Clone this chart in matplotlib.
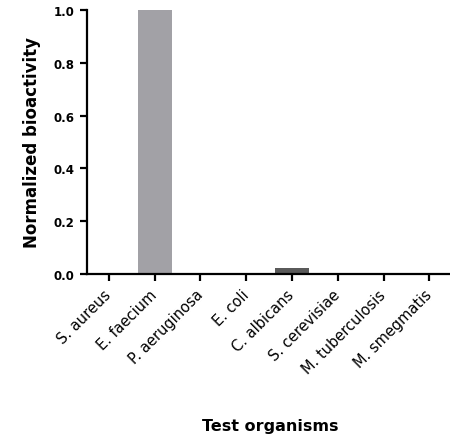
import matplotlib.pyplot as plt

plt.rcParams['font.family'] = ['DejaVu Sans']

organisms = ['S. aureus', 'E. faecium', 'P. aeruginosa', 'E. coli',
             'C. albicans', 'S. cerevisiae', 'M. tuberculosis', 'M. smegmatis']
activity = [0.0, 1.0, 0.0, 0.0, 0.022, 0.0, 0.0, 0.0]
bar_colors = ['#a2a1a6', '#a2a1a6', '#a2a1a6', '#a2a1a6',
              '#5a5a5a', '#a2a1a6', '#a2a1a6', '#a2a1a6']

fig = plt.figure(figsize=(4.5, 4.39), dpi=100)
ax = fig.add_axes([0.193, 0.374, 0.807, 0.601])

x = range(len(organisms))
ax.bar(x, activity, width=0.74, color=bar_colors)

ax.set_xlim(-0.48, 7.45)
ax.set_ylim(0, 1.0)
ax.set_yticks([0.0, 0.2, 0.4, 0.6, 0.8, 1.0])
ax.set_yticklabels(['0.0', '0.2', '0.4', '0.6', '0.8', '1.0'],
                   fontsize=8.5, fontweight='bold')
ax.set_xticks(list(x))
ax.set_xticklabels(organisms, rotation=45, ha='right', va='center',
                   rotation_mode='anchor', fontsize=10.5)

for side in ['top', 'right']:
    ax.spines[side].set_visible(False)
for side in ['left', 'bottom']:
    ax.spines[side].set_linewidth(1.6)
ax.tick_params(axis='both', width=1.6, length=5, color='black')
ax.tick_params(axis='y', pad=4)
ax.tick_params(axis='x', pad=8)

ax.set_ylabel('Normalized bioactivity', fontsize=12, fontweight='bold')
ax.yaxis.set_label_coords(-0.125, 0.5)
fig.text(0.6, 0.018, 'Test organisms', fontsize=11.5, fontweight='bold', ha='center')

fig.savefig('out.png', dpi=100)
